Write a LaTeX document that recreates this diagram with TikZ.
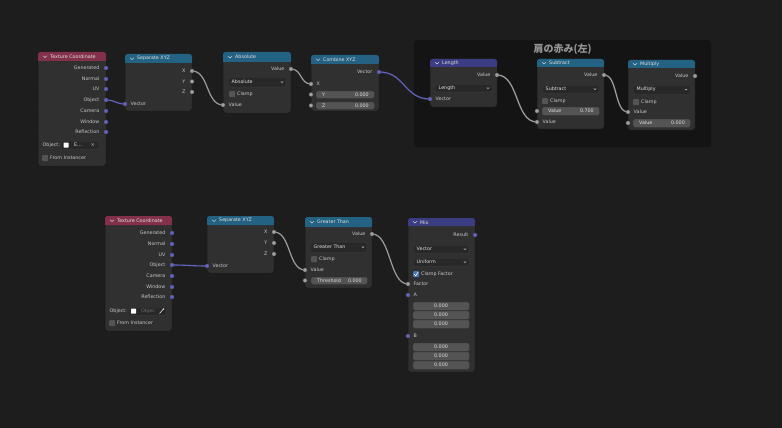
\documentclass[tikz,border=0pt]{standalone}
\usepackage{fontspec}
\setmainfont{DejaVu Sans}
\newfontfamily\jpfont{Noto Sans CJK JP}
\definecolor{cBg}{HTML}{1D1D1D}
\definecolor{cDot}{HTML}{262626}
\definecolor{cFrame}{HTML}{141414}
\definecolor{cBody}{HTML}{303030}
\definecolor{cEdge}{HTML}{191919}
\definecolor{cHText}{HTML}{E0E0E0}
\definecolor{cLText}{HTML}{C8C8C8}
\definecolor{cVec}{HTML}{6363C7}
\definecolor{cFlt}{HTML}{A1A1A1}
\definecolor{cDD}{HTML}{282828}
\definecolor{cDDEdge}{HTML}{3D3D3D}
\definecolor{cVal}{HTML}{545454}
\definecolor{cIn}{HTML}{83314A}
\definecolor{cConv}{HTML}{246283}
\definecolor{cVecH}{HTML}{3C3C83}
\definecolor{cCheck}{HTML}{4772B3}
\definecolor{cTitle}{HTML}{969696}
\definecolor{cGrey}{HTML}{6E6E6E}
\pgfdeclarelayer{bg}
\pgfdeclarelayer{lk}
\pgfsetlayers{bg,lk,main}
\tikzset{
  nbody/.style={rectangle, rounded corners=2.5pt, fill=cBody, draw=cEdge, line width=0.5pt, inner sep=0pt, outer sep=0pt},
  htext/.style={font=\fontsize{4.8}{5}\selectfont, text=cHText, inner sep=0pt},
  ltext/.style={font=\fontsize{4.8}{5}\selectfont, text=cLText, inner sep=0pt},
  sockv/.style={circle, fill=cVec, draw=black!75, line width=0.3pt, inner sep=0pt, minimum size=4.2pt},
  sockf/.style={circle, fill=cFlt, draw=black!75, line width=0.3pt, inner sep=0pt, minimum size=4.2pt},
  ddbox/.style={rectangle, rounded corners=1.5pt, fill=cDD, draw=cDDEdge, line width=0.35pt, inner sep=0pt},
  vbox/.style={rectangle, rounded corners=1.5pt, fill=cVal, draw=cEdge!80, line width=0.3pt, inner sep=0pt},
  idbox/.style={rectangle, rounded corners=1.5pt, fill=cDD, draw=cDDEdge, line width=0.35pt, inner sep=0pt},
  cbox/.style={rectangle, rounded corners=0.8pt, fill=cVal, inner sep=0pt, minimum size=6pt},
  chev/.style={draw=cHText, line width=0.45pt},
  flink/.style={draw=cFlt, line width=1.1pt, preaction={draw=black!85, line width=2.1pt}},
  vlink/.style={draw=cVec, line width=1.1pt, preaction={draw=black!85, line width=2.1pt}},
}
\newcommand\bnode[8]{%
  \node[nbody, minimum width={(#4-#2)*1pt}, minimum height={(#5-#3)*1pt}, anchor=north west] (#1) at (#2,#3) {};
  \fill[#7, rounded corners=2.5pt] (#2,#3) rectangle (#4,#6);
  \fill[#7] (#2,{#6-2.6}) rectangle (#4,#6);
  \draw[chev] ({#2+5},{(#3+#6)/2-0.8}) -- ({#2+7},{(#3+#6)/2+1.0}) -- ({#2+9},{(#3+#6)/2-0.8});
  \node[htext, anchor=west] (#1-title) at ({#2+12},{(#3+#6)/2+0.2}) {#8};
}
\newcommand\bout[5]{%
  \node[#4] (#1) at (#2,#3) {};
  \node[ltext, anchor=east] (#1-l) at ({#2-6.5},#3) {#5};
}
\newcommand\bin[5]{%
  \node[#4] (#1) at (#2,#3) {};
  \node[ltext, anchor=west] (#1-l) at ({#2+5.5},#3) {#5};
}
\newcommand\bdd[6]{%
  \node[ddbox, minimum width={(#4-#2)*1pt}, minimum height={(#5-#3)*1pt}, anchor=north west] (#1) at (#2,#3) {};
  \node[ltext, text=cHText, anchor=west] (#1-t) at ({#2+3.5},{(#3+#5)/2}) {#6};
  \draw[chev, line width=0.35pt] ({#4-5.2},{(#3+#5)/2-0.5}) -- ({#4-4},{(#3+#5)/2+0.7}) -- ({#4-2.8},{(#3+#5)/2-0.5});
}
\newcommand\bval[7]{%
  \node[vbox, minimum width={(#4-#2)*1pt}, minimum height={(#5-#3)*1pt}, anchor=north west] (#1) at (#2,#3) {};
  \node[ltext, text=cHText, anchor=west] (#1-a) at ({#2+6},{(#3+#5)/2}) {#6};
  \node[ltext, text=cHText, anchor=east] (#1-b) at ({#4-5},{(#3+#5)/2}) {#7};
}
\newcommand\bnum[6]{%
  \node[vbox, minimum width={(#4-#2)*1pt}, minimum height={(#5-#3)*1pt}, anchor=north west] (#1) at (#2,#3) {};
  \node[ltext, text=cHText] (#1-v) at ({(#2+#4)/2},{(#3+#5)/2}) {#6};
}
\newcommand\bcheck[4]{%
  \node[cbox, anchor=north west] (#1) at (#2,#3) {};
  \node[ltext, anchor=west] (#1-l) at ({#2+8},{#3+3}) {#4};
}
\begin{document}
\begin{tikzpicture}[x=1pt,y=-1pt]
\useasboundingbox (0,0) rectangle (782,428);
\begin{pgfonlayer}{bg}
  \fill[cBg] (0,0) rectangle (782,428);
  \foreach \gx in {10,35,...,785} {\foreach \gy in {8,33,...,430} {\fill[cDot] (\gx,\gy) circle (0.7);}}
  \node[rectangle, rounded corners=3pt, fill=cFrame, inner sep=0pt, minimum width=297pt, minimum height=107pt, anchor=north west] (frm) at (414,40) {};
  \node[font=\jpfont\bfseries\fontsize{10}{10}\selectfont, text=cTitle, inner sep=0pt] (frmtitle) at (562.5,49.5) {肩の赤み(左)};
\end{pgfonlayer}

% ---------- top row ----------
\bnode{tc1}{38}{52}{106}{166}{61}{cIn}{Texture Coordinate}
\bout{tc1-gen}{106}{68}{sockv}{Generated}
\bout{tc1-nor}{106}{79}{sockv}{Normal}
\bout{tc1-uv}{106}{89}{sockv}{UV}
\bout{tc1-obj}{106}{100}{sockv}{Object}
\bout{tc1-cam}{106}{111}{sockv}{Camera}
\bout{tc1-win}{106}{122}{sockv}{Window}
\bout{tc1-ref}{106}{132}{sockv}{Reflection}
\node[ltext, anchor=west] (tc1-objl) at (42.5,145) {Object:};
\node[idbox, minimum width=38pt, minimum height=8pt, anchor=north west] (tc1-id) at (61,141) {};
\fill[white!92, rounded corners=0.5pt] (63.5,142.6) rectangle (68.5,147.6);
\node[ltext, text=cHText, anchor=west] (tc1-idt) at (74,145) {E...};
\node[ltext] (tc1-idx) at (93,145) {×};
\bcheck{tc1-fi}{42}{155}{From Instancer}

\bnode{sx1}{125}{54}{192}{111}{63}{cConv}{Separate XYZ}
\bout{sx1-x}{192}{71}{sockf}{X}
\bout{sx1-y}{192}{81.5}{sockf}{Y}
\bout{sx1-z}{192}{92}{sockf}{Z}
\bin{sx1-vec}{125}{104}{sockv}{Vector}

\bnode{ab}{223}{52}{291}{113}{62}{cConv}{Absolute}
\bout{ab-out}{291}{69}{sockf}{Value}
\bdd{ab-dd}{228}{77}{286}{87}{Absolute}
\bcheck{ab-cl}{229}{91}{Clamp}
\bin{ab-in}{223}{105}{sockf}{Value}

\bnode{cb}{311}{55}{379}{111}{64}{cConv}{Combine XYZ}
\bout{cb-out}{379}{72}{sockv}{Vector}
\bin{cb-x}{311}{84}{sockf}{X}
\node[sockf] (cb-y) at (311,94.5) {};
\bval{cb-yf}{316}{91}{374}{98}{Y}{0.000}
\node[sockf] (cb-z) at (311,105.5) {};
\bval{cb-zf}{316}{102}{374}{109}{Z}{0.000}

\bnode{ln}{430}{59}{497}{107}{67}{cVecH}{Length}
\bout{ln-out}{497}{75}{sockf}{Value}
\bdd{ln-dd}{435}{84}{492}{92}{Length}
\bin{ln-in}{430}{99}{sockv}{Vector}

\bnode{sb}{537}{59}{604}{129}{67}{cConv}{Subtract}
\bout{sb-out}{604}{75}{sockf}{Value}
\bdd{sb-dd}{542}{85}{599}{93}{Subtract}
\bcheck{sb-cl}{542}{98}{Clamp}
\node[sockf] (sb-v1) at (537,111) {};
\bval{sb-vf}{542}{107}{599}{115}{Value}{0.700}
\bin{sb-in}{537}{122}{sockf}{Value}

\bnode{mu}{628}{60}{695}{130}{68}{cConv}{Multiply}
\bout{mu-out}{695}{76}{sockf}{Value}
\bdd{mu-dd}{633}{85}{690}{94}{Multiply}
\bcheck{mu-cl}{633}{99}{Clamp}
\bin{mu-in}{628}{112}{sockf}{Value}
\node[sockf] (mu-v2) at (628,123) {};
\bval{mu-vf}{633}{119}{690}{127}{Value}{0.000}

% ---------- bottom row ----------
\bnode{tc2}{105}{216}{172}{331}{225}{cIn}{Texture Coordinate}
\bout{tc2-gen}{172}{233}{sockv}{Generated}
\bout{tc2-nor}{172}{244}{sockv}{Normal}
\bout{tc2-uv}{172}{255}{sockv}{UV}
\bout{tc2-obj}{172}{265}{sockv}{Object}
\bout{tc2-cam}{172}{276}{sockv}{Camera}
\bout{tc2-win}{172}{287}{sockv}{Window}
\bout{tc2-ref}{172}{297}{sockv}{Reflection}
\node[ltext, anchor=west] (tc2-objl) at (109.5,311) {Object:};
\node[idbox, minimum width=37pt, minimum height=8pt, anchor=north west] (tc2-id) at (129,307) {};
\fill[white!92, rounded corners=0.5pt] (131,308.5) rectangle (136,313.5);
\node[ltext, text=cGrey, anchor=west] (tc2-idt) at (141,311) {Objec};
\draw[cHText, line width=0.6pt] (159.5,313.5) -- (163,309.5);
\fill[cHText] (163.4,309.1) circle (0.9);
\bcheck{tc2-fi}{109}{320}{From Instancer}

\bnode{sx2}{207}{216}{274}{273}{225}{cConv}{Separate XYZ}
\bout{sx2-x}{274}{232}{sockf}{X}
\bout{sx2-y}{274}{243}{sockf}{Y}
\bout{sx2-z}{274}{254}{sockf}{Z}
\bin{sx2-vec}{207}{266}{sockv}{Vector}

\bnode{gt}{305}{217}{372}{288}{227}{cConv}{Greater Than}
\bout{gt-out}{372}{234}{sockf}{Value}
\bdd{gt-dd}{310}{242}{367}{252}{Greater Than}
\bcheck{gt-cl}{311}{256}{Clamp}
\bin{gt-in}{305}{270}{sockf}{Value}
\node[sockf] (gt-th) at (305,280.5) {};
\bval{gt-thf}{311}{277}{367}{284}{Threshold}{0.000}

\bnode{mix}{408}{218}{475}{372}{226}{cVecH}{Mix}
\bout{mix-out}{475}{235}{sockv}{Result}
\bdd{mix-dd1}{413}{245}{469}{253}{Vector}
\bdd{mix-dd2}{413}{258}{469}{266}{Uniform}
\node[cbox, fill=cCheck, anchor=north west] (mix-cf) at (413,271) {};
\draw[white, line width=0.6pt] (414.2,274.2) -- (415.7,275.8) -- (418.2,272);
\node[ltext, anchor=west] (mix-cf-l) at (421,274) {Clamp Factor};
\bin{mix-fac}{408}{284}{sockf}{Factor}
\bin{mix-a}{408}{295}{sockv}{A}
\bnum{mix-a1}{413}{302}{469}{310}{0.000}
\bnum{mix-a2}{413}{311}{469}{319}{0.000}
\bnum{mix-a3}{413}{320}{469}{328}{0.000}
\bin{mix-b}{408}{336}{sockv}{B}
\bnum{mix-b1}{413}{343}{469}{351}{0.000}
\bnum{mix-b2}{413}{352}{469}{360}{0.000}
\bnum{mix-b3}{413}{361}{469}{369}{0.000}

% ---------- links ----------
\begin{pgfonlayer}{lk}
\draw[vlink] (tc1-obj.center) .. controls +(9,0) and +(-9,0) .. (sx1-vec.center);
\draw[flink] (sx1-x.center) .. controls +(17,0) and +(-17,0) .. (ab-in.center);
\draw[flink] (ab-out.center) .. controls +(11,0) and +(-11,0) .. (cb-x.center);
\draw[vlink] (cb-out.center) .. controls +(26,0) and +(-26,0) .. (ln-in.center);
\draw[flink] (ln-out.center) .. controls +(22,0) and +(-22,0) .. (sb-in.center);
\draw[flink] (sb-out.center) .. controls +(14,0) and +(-14,0) .. (mu-in.center);
\draw[vlink] (tc2-obj.center) .. controls +(15,0) and +(-15,0) .. (sx2-vec.center);
\draw[flink] (sx2-x.center) .. controls +(17,0) and +(-17,0) .. (gt-in.center);
\draw[flink] (gt-out.center) .. controls +(19,0) and +(-19,0) .. (mix-fac.center);
\end{pgfonlayer}
\end{tikzpicture}
\end{document}
